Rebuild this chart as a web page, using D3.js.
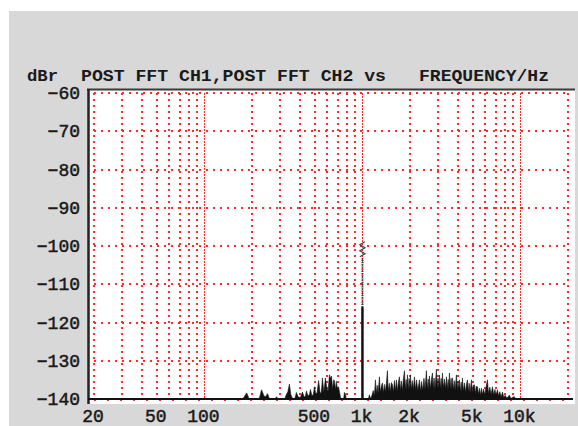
<!DOCTYPE html>
<html>
<head>
<meta charset="utf-8">
<script src="https://cdn.jsdelivr.net/npm/d3@7"></script>
<style>
  html, body { margin: 0; padding: 0; background: #ffffff; }
  svg { display: block; }
</style>
</head>
<body>
<svg id="chart" width="578" height="426"></svg>
<script>
// ---------- DATA ----------
const xTickValues = [20, 50, 100, 500, 1000, 2000, 5000, 10000];
const xTickLabels = ["20", "50", "100", "500", "1k", "2k", "5k", "10k"];
const yTickValues = [-60, -70, -80, -90, -100, -110, -120, -130, -140];
const yTickLabels = ["\u221260", "\u221270", "\u221280", "\u221290", "\u2212100", "\u2212110", "\u2212120", "\u2212130", "\u2212140"];
const gridFreqs = [20,30,40,50,60,70,80,90,100,200,300,400,500,600,700,800,900,1000,2000,3000,4000,5000,6000,7000,8000,9000,10000,20000];
const decadeFreqs = [100, 1000, 10000];

// CH2 noise spectrum (Hz, dBr)
const ch2Freq = [175,185,192,222,230,237,243,251,258,280,286,292,322,330,337,345,352,362,374,382,392,405,417,428,436,442,452,462,469,478,488,497,506,516,528,540,550,558,570,583,595,606,618,628,637,648,657,665,675,684,695,705,718,730,760,769,780,790,
1090,1107,1125,1150,1170,1190,1209,1222,1240,1258,1281,1296,1320,1339,1355,1378,1395,1420,1439,1455,1480,1500,1525,1548,1570,1595,1620,1641,1662,1690,1715,1735,1760,1790,1815,1845,1865,1890,1910,1927,1950,1975,2000,2013,2040,2070,2100,2134,2165,2200,2240,2295,2330,2370,2410,2450,2490,2541,2570,2610,2635,2655,2690,2730,2774,2800,2840,2880,2910,2940,2975,3010,3040,3072,3110,3150,3180,3209,3250,3300,3350,3401,3440,3490,3520,3553,3590,3640,3680,3712,3760,3810,3860,3935,3980,4030,4070,4111,4160,4220,4260,4295,4350,4420,4500,4560,4621,4680,4740,4800,4897,4960,5030,5116,5180,5250,5345,5420,5500,5580,5664,5750,5850,5950,6050,6182,6280,6400,6520,6651,6780,6900,7010,7149,7280,7400,7550,7692,7850,8000,8200,8513,8700,9000,9161,9300];
const ch2Db = [-140,-138.4,-140,-140,-137.6,-139.0,-139.5,-138.6,-140,-140,-139.4,-140,-140,-138.8,-138.2,-136.1,-138.8,-140,-139.8,-138.3,-139.5,-139.6,-138.2,-139.5,-139.3,-137.9,-139.2,-138.8,-137.5,-139.0,-139.0,-136.8,-138.6,-138.4,-135.2,-138.5,-138.2,-134.5,-138.3,-134.5,-137.2,-138.0,-133.7,-134.6,-134.0,-137.5,-135.0,-135.2,-137.6,-135.4,-137.5,-136.8,-138.4,-140,-140,-138.3,-138.6,-140,
-140,-138.9,-140,-139.0,-137.8,-139.2,-135.0,-138.6,-136.4,-138.5,-134.2,-138.2,-136.5,-135.8,-138.4,-136.2,-138.2,-135.6,-132.6,-138.0,-135.9,-138.2,-135.7,-136.3,-138.2,-135.2,-137.8,-135.0,-138.0,-135.5,-134.2,-137.9,-135.3,-137.8,-134.8,-132.6,-137.6,-134.9,-137.6,-133.7,-137.5,-134.6,-137.6,-133.7,-137.4,-135.2,-137.6,-134.2,-137.6,-135.0,-137.8,-135.0,-138.0,-135.4,-137.8,-134.6,-137.5,-132.6,-137.4,-134.8,-137.5,-134.0,-137.4,-135.0,-133.2,-137.4,-134.5,-137.3,-134.8,-132.2,-137.2,-134.6,-137.3,-133.7,-137.2,-134.6,-137.5,-133.2,-137.2,-134.8,-137.4,-134.2,-137.3,-134.9,-137.5,-133.2,-137.2,-134.6,-137.5,-134.5,-137.6,-135.2,-137.7,-133.7,-137.6,-135.4,-137.8,-135.0,-138.0,-135.6,-138.2,-134.5,-138.0,-135.8,-138.2,-136.0,-135.0,-138.1,-135.9,-138.3,-135.0,-138.3,-136.4,-136.3,-138.6,-136.7,-136.8,-138.8,-137.2,-139.0,-137.2,-138.8,-137.4,-139.0,-137.0,-135.0,-138.6,-136.9,-138.8,-136.8,-138.9,-137.5,-139.0,-137.6,-139.2,-138.1,-139.5,-138.2,-139.6,-139.0,-139.8,-139.0,-139.9,-139.5,-139.4,-140];

// 1 kHz test tone residues
const toneFreq = 1000;
const ch2ToneDb = -116;
const ch1ToneDb = -101.5;
const floorDb = -140;

// ---------- CHART ----------
const svg = d3.select("#chart");
const W = 578, H = 426;

// gray panel
svg.append("rect").attr("x", 9).attr("y", 11).attr("width", W - 9).attr("height", H - 11).attr("fill", "#d8d8d8");

const x = d3.scaleLog().domain([20, 20000]).range([94, 568]);
const y = d3.scaleLinear().domain([-60, -140]).range([93, 399]);

// white plot area
svg.append("rect").attr("x", 88).attr("y", 90).attr("width", 575 - 88).attr("height", 404 - 90).attr("fill", "#ffffff");

// grid
const grid = svg.append("g").attr("shape-rendering", "crispEdges");
grid.selectAll("line.h").data(yTickValues.filter(v => v !== -140)).join("line")
  .attr("x1", x(20)).attr("x2", x(20000))
  .attr("y1", d => y(d)).attr("y2", d => y(d))
  .attr("stroke", "#ff2a2a").attr("stroke-width", 2).attr("stroke-dasharray", "2,5");
grid.selectAll("line.v").data(gridFreqs).join("line")
  .attr("x1", d => x(d)).attr("x2", d => x(d))
  .attr("y1", y(-60)).attr("y2", y(-140))
  .attr("stroke", "#ff2a2a")
  .attr("stroke-width", d => decadeFreqs.includes(d) ? 1.5 : 2)
  .attr("stroke-dasharray", d => decadeFreqs.includes(d) ? "1.5,1.5" : "2,4");
// bottom dots row
grid.append("line")
  .attr("x1", x(20)).attr("x2", x(20000)).attr("y1", y(-140) + 1).attr("y2", y(-140) + 1)
  .attr("stroke", "#ff2a2a").attr("stroke-width", 2).attr("stroke-dasharray", "2,11");

// CH2 noise area
const pts = ch2Freq.map((f, i) => [f, ch2Db[i]]);
const area = d3.area().x(d => x(d[0])).y0(y(floorDb)).y1(d => y(d[1]));
svg.append("path").datum(pts).attr("d", area).attr("fill", "#111").attr("stroke", "#111").attr("stroke-width", 0.6);

// 1k tone: CH1 dotted, CH2 solid
svg.append("line")
  .attr("x1", x(toneFreq)).attr("x2", x(toneFreq))
  .attr("y1", y(ch2ToneDb)).attr("y2", y(ch1ToneDb) + 6)
  .attr("stroke", "#333").attr("stroke-width", 2).attr("stroke-dasharray", "1.2,1");
svg.append("path")
  .attr("d", `M${x(toneFreq)-2.5},${y(ch1ToneDb)+5} l5,-3 l-5,-3 l5,-3 l-5,-3 l5,-3`)
  .attr("stroke", "#444").attr("stroke-width", 1.3).attr("fill", "none");
svg.append("line")
  .attr("x1", x(toneFreq)).attr("x2", x(toneFreq))
  .attr("y1", y(floorDb)).attr("y2", y(ch2ToneDb))
  .attr("stroke", "#111").attr("stroke-width", 2.5);

// frame
svg.append("line").attr("x1", 87).attr("x2", 575).attr("y1", 89.5).attr("y2", 89.5).attr("stroke", "#3a3a3a").attr("stroke-width", 2);
svg.append("line").attr("x1", 88.5).attr("x2", 88.5).attr("y1", 89).attr("y2", 404).attr("stroke", "#222").attr("stroke-width", 2.5);
svg.append("line").attr("x1", 88).attr("x2", 573).attr("y1", y(floorDb)).attr("y2", y(floorDb)).attr("stroke", "#111").attr("stroke-width", 2);

// y tick labels
svg.append("g").selectAll("text").data(yTickValues).join("text")
  .attr("x", 80).attr("y", d => y(d) + 6)
  .attr("text-anchor", "end")
  .attr("font-family", "Liberation Mono, DejaVu Sans Mono, monospace")
  .attr("font-size", 18).attr("fill", "#1a1a1a")
  .attr("stroke", "#1a1a1a").attr("stroke-width", 0.5)
  .text((d, i) => yTickLabels[i]);

// x tick labels
svg.append("g").selectAll("text").data(xTickValues).join("text")
  .attr("x", d => x(d) - 1).attr("y", 422)
  .attr("text-anchor", "middle")
  .attr("font-family", "Liberation Mono, DejaVu Sans Mono, monospace")
  .attr("font-size", 18).attr("fill", "#1a1a1a")
  .attr("stroke", "#1a1a1a").attr("stroke-width", 0.5)
  .text((d, i) => xTickLabels[i]);

// title
const titleParts = [
  { t: "dBr", x: 27, len: 31 },
  { t: "POST FFT CH1,POST FFT CH2 vs", x: 81, len: 305 },
  { t: "FREQUENCY/Hz", x: 419, len: 130 }
];
svg.append("g").selectAll("text").data(titleParts).join("text")
  .attr("x", d => d.x).attr("y", 81)
  .attr("textLength", d => d.len).attr("lengthAdjust", "spacingAndGlyphs")
  .attr("font-family", "Liberation Mono, DejaVu Sans Mono, monospace")
  .attr("font-weight", "bold").attr("font-size", 16).attr("fill", "#1a1a1a")
  .text(d => d.t);
</script>
</body>
</html>
